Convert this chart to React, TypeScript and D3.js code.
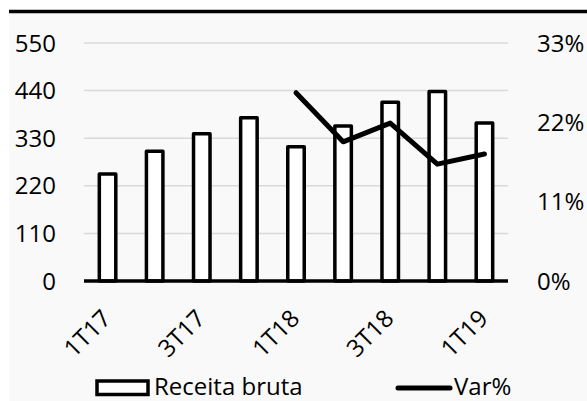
import React from "react";
import * as d3 from "d3";

const categories = ["1T17", "2T17", "3T17", "4T17", "1T18", "2T18", "3T18", "4T18", "1T19"];
const receitaBruta = [247, 300, 340, 377, 310, 358, 413, 438, 365];
const varPct: (number | null)[] = [null, null, null, null, 26.1, 19.3, 21.9, 16.2, 17.6];
const leftTicks = [0, 110, 220, 330, 440, 550];
const rightTicks = [0, 11, 22, 33];
const xTickLabels = ["1T17", "3T17", "1T18", "3T18", "1T19"];

const W = 587;
const H = 401;
const FONT = "'Open Sans', 'Noto Sans', sans-serif";
const FS = 24;

export default function App() {
  const x = d3.scaleBand<string>().domain(categories).range([84, 508]).paddingInner(0.65).paddingOuter(0.325);
  const yL = d3.scaleLinear().domain([0, 550]).range([281, 43]);
  const yR = d3.scaleLinear().domain([0, 33]).range([281, 43]);

  const lineData = categories
    .map((c, i) => ({ c, v: varPct[i] }))
    .filter((d) => d.v !== null) as { c: string; v: number }[];
  const line = d3
    .line<{ c: string; v: number }>()
    .x((d) => (x(d.c) as number) + x.bandwidth() / 2)
    .y((d) => yR(d.v));

  return (
    <svg width={W} height={H} style={{ position: "absolute", left: 0, top: 0, fontFamily: FONT }}>
      <rect x={0} y={0} width={W} height={H} fill="#ffffff" />
      <rect x={9} y={13} width={W - 9} height={H - 13} fill="#f9f9f9" />
      <line x1={9} x2={W} y1={11.5} y2={11.5} stroke="#000" strokeWidth={3.5} />
      {leftTicks.map((t) => (
        <g key={"g" + t}>
          {t !== 0 && <line x1={84} x2={508} y1={yL(t)} y2={yL(t)} stroke="#d9d9d9" strokeWidth={1.5} />}
          <text x={56} y={yL(t)} dy="0.36em" textAnchor="end" fontSize={FS} fill="#000">
            {t}
          </text>
        </g>
      ))}
      {rightTicks.map((t) => (
        <text key={"r" + t} x={537} y={yR(t)} dy="0.36em" textAnchor="start" fontSize={FS} fill="#000">
          {t + "%"}
        </text>
      ))}
      {categories.map((c, i) => (
        <rect
          key={c}
          x={x(c) as number}
          y={yL(receitaBruta[i])}
          width={x.bandwidth()}
          height={yL(0) - yL(receitaBruta[i])}
          fill="#ffffff"
          stroke="#000"
          strokeWidth={3.5}
          strokeLinejoin="round"
        />
      ))}
      <line x1={84} x2={508} y1={yL(0)} y2={yL(0)} stroke="#000" strokeWidth={3.5} />
      <path d={line(lineData) || ""} fill="none" stroke="#000" strokeWidth={5} strokeLinejoin="round" strokeLinecap="round" />
      {xTickLabels.map((c) => {
        const cx = (x(c) as number) + x.bandwidth() / 2;
        return (
          <text
            key={"x" + c}
            transform={`translate(${cx + 5},${320}) rotate(-45)`}
            textAnchor="end"
            fontSize={FS}
            fill="#000"
          >
            {c}
          </text>
        );
      })}
      <rect x={97} y={381} width={51} height={13.5} fill="#ffffff" stroke="#000" strokeWidth={3.5} />
      <text x={154} y={395} fontSize={FS} fill="#000">
        Receita bruta
      </text>
      <line x1={398} x2={450} y1={388} y2={388} stroke="#000" strokeWidth={5} strokeLinecap="round" />
      <text x={454} y={395} fontSize={FS} fill="#000">
        Var%
      </text>
    </svg>
  );
}
